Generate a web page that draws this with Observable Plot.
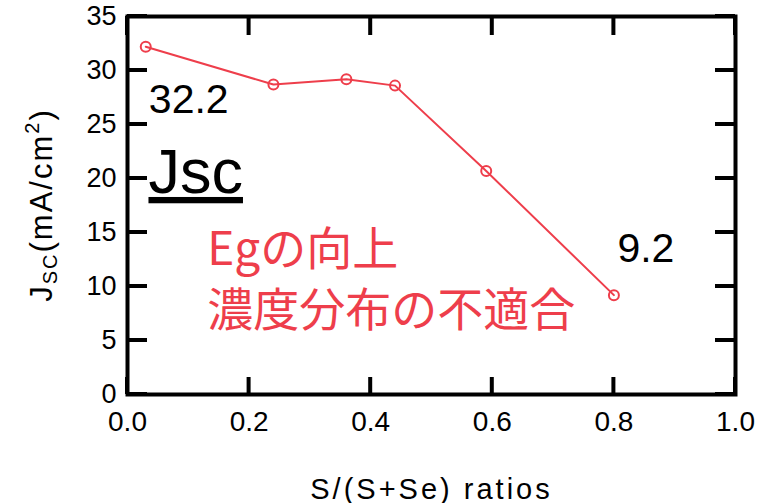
<!DOCTYPE html>
<html>
<head>
<meta charset="utf-8">
<script src="https://cdn.jsdelivr.net/npm/d3@7"></script>
<script src="https://cdn.jsdelivr.net/npm/@observablehq/plot@0.6"></script>
<style>
  html, body { margin: 0; padding: 0; background: #fff; }
  #chart svg { display: block; }
  g[aria-label="x-axis label"] text { letter-spacing: 3px; font-size: 29px; }
</style>
</head>
<body>
<div id="chart"></div>
<script>
// Short-circuit current density versus S/(S+Se) composition
const ratios = [0.03, 0.24, 0.36, 0.44, 0.59, 0.80];
const jsc = [32.2, 28.7, 29.2, 28.6, 20.7, 9.2];
const xTicks = [0, 0.2, 0.4, 0.6, 0.8, 1.0];
const yTicks = [0, 5, 10, 15, 20, 25, 30, 35];
const xLabel = "S/(S+Se) ratios";
const tag = "Jsc";
const notes = ["Egの向上", "濃度分布の不適合"];

const data = ratios.map((r, i) => ({r, j: jsc[i]}));
const first = [data[0]];
const last = [data[data.length - 1]];

const red = "#ee3e4b";
const font = "'Liberation Sans', Arial, Helvetica, sans-serif";
const cjkFont = "'Noto Sans CJK JP', 'Noto Sans', sans-serif";

const plot = Plot.plot({
  width: 758,
  height: 503,
  marginLeft: 127,
  marginRight: 23,
  marginTop: 16,
  marginBottom: 109,
  style: {fontFamily: font, background: "#fff", color: "#000"},
  x: {domain: [0, 1]},
  y: {domain: [0, 35]},
  marks: [
    Plot.frame({strokeWidth: 4, fill: "none", stroke: "#000"}),
    // tick labels and axis title
    Plot.axisX(xTicks, {
      anchor: "bottom", tickSize: 0, tickPadding: 17, fontSize: 28,
      tickFormat: d3.format(".1f"),
      label: xLabel, labelAnchor: "center", labelOffset: 104, labelArrow: "none"
    }),
    Plot.axisY(yTicks, {anchor: "left", tickSize: 0, tickPadding: 11, fontSize: 27, label: null}),
    // series
    Plot.line(data, {x: "r", y: "j", stroke: red, strokeWidth: 2}),
    Plot.dot(data, {x: "r", y: "j", r: 5, stroke: red, strokeWidth: 2, fill: "none"}),
    // value labels of the end points
    Plot.text(first, {x: "r", y: "j", text: d => d.j.toFixed(1), dx: 43, dy: 66,
      lineAnchor: "bottom", textAnchor: "middle", fontSize: 41, fill: "#000"}),
    Plot.text(last, {x: "r", y: "j", text: d => d.j.toFixed(1), dx: 32, dy: -33,
      lineAnchor: "bottom", textAnchor: "middle", fontSize: 41, fill: "#000"}),
    // annotations
    Plot.text([tag], {x: 0.0345, y: 18.66, text: d => d, textAnchor: "start",
      lineAnchor: "bottom", fontSize: 63, fill: "#000"}),
    Plot.text([notes[0]], {x: 0.131, y: 11.95, text: d => d, textAnchor: "start",
      lineAnchor: "bottom", fontSize: 46, fill: red, fontFamily: cjkFont}),
    Plot.text([notes[1]], {x: 0.131, y: 6.3, text: d => d, textAnchor: "start",
      lineAnchor: "bottom", fontSize: 46, fill: red, fontFamily: cjkFont})
  ]
});

const svg = d3.select(plot);

// underline the series tag
svg.selectAll("text")
  .filter(function() { return this.textContent === tag; })
  .style("text-decoration", "underline");

// inward ticks on all four sides as one path, positioned with the plot's scales
const sx = plot.scale("x"), sy = plot.scale("y");
const [xLeft, xRight] = sx.range;
const [yBottom, yTop] = sy.range;
const tickPath = d3.path();
for (const v of xTicks) {
  const x = sx.apply(v);
  tickPath.moveTo(x, yBottom); tickPath.lineTo(x, yBottom - 17);
  tickPath.moveTo(x, yTop); tickPath.lineTo(x, yTop + 19);
}
for (const v of yTicks) {
  const y = sy.apply(v);
  tickPath.moveTo(xLeft, y); tickPath.lineTo(xLeft + 20, y);
  tickPath.moveTo(xRight, y); tickPath.lineTo(xRight - 20, y);
}
svg.append("path")
  .attr("d", tickPath.toString())
  .attr("fill", "none")
  .attr("stroke", "#000")
  .attr("stroke-width", 4);

// y-axis title with subscript and superscript
const yTitle = svg.append("text")
  .attr("transform", `translate(52,${(yBottom + yTop) / 2}) rotate(-90)`)
  .attr("text-anchor", "middle")
  .attr("font-family", font)
  .attr("font-size", 31)
  .attr("letter-spacing", "2px")
  .attr("fill", "#000");
yTitle.append("tspan").text("J");
yTitle.append("tspan").attr("font-size", 20).attr("dy", 5).text("SC");
yTitle.append("tspan").attr("dy", -5).text("(mA/cm");
yTitle.append("tspan").attr("font-size", 20).attr("dy", -13).text("2");
yTitle.append("tspan").attr("dy", 13).text(")");

document.getElementById("chart").append(plot);
</script>
</body>
</html>
